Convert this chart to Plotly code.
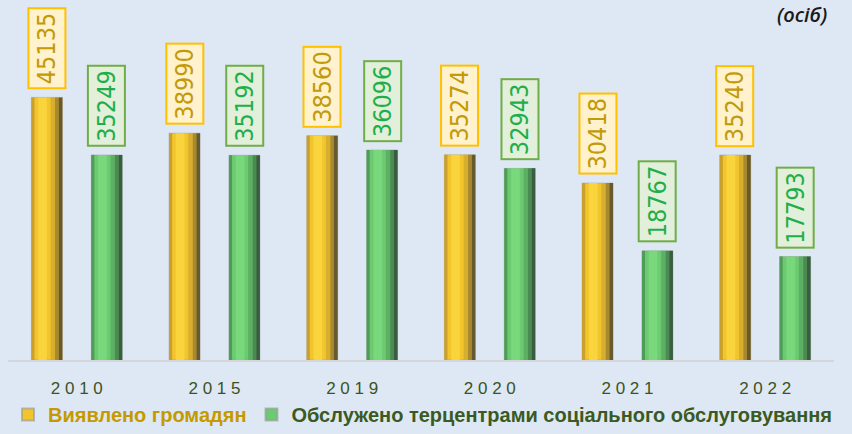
import plotly.graph_objects as go

years = ["2010", "2015", "2019", "2020", "2021", "2022"]
tick_labels = ["2 0 1 0", "2 0 1 5", "2 0 1 9", "2 0 2 0", "2 0 2 1", "2 0 2 2"]
found = [45135, 38990, 38560, 35274, 30418, 35240]
served = [35249, 35192, 36096, 32943, 18767, 17793]

name_found = "Виявлено громадян"
name_served = "Обслужено терцентрами соціального обслуговування"

LBL_FONT = "DejaVu Sans Condensed, Liberation Sans Narrow, sans-serif"

BAR_W = 0.225          # bar width in category units
OFF_FOUND = -0.330     # left edge of the yellow bar relative to category centre
OFF_SERVED = 0.105     # left edge of the green bar

# shading strips: (start fraction, end fraction, colour)
shade_found = [(0.00, 0.10, "#C9A02E"), (0.22, 0.50, "#FAD43C"), (0.62, 0.76, "#D8AE2E"),
               (0.76, 0.88, "#A8892E"), (0.88, 1.00, "#66582F")]
shade_served = [(0.00, 0.10, "#4F9C5A"), (0.22, 0.50, "#79D87C"), (0.62, 0.76, "#5DB063"),
                (0.76, 0.88, "#4A8B52"), (0.88, 1.00, "#3A5C41")]

fig = go.Figure()


def add_series(vals, name, base_col, offset, shades, legend_col):
    fig.add_trace(go.Bar(
        x=years, y=vals, name="<span style='color:%s'>%s</span>" % (legend_col, name),
        width=BAR_W, offset=offset,
        marker=dict(color=base_col, line=dict(color="rgba(150,150,150,0.6)", width=0.8)),
    ))
    for a, b, c in shades:
        fig.add_trace(go.Bar(
            x=years, y=vals, showlegend=False, hoverinfo="skip",
            width=BAR_W * (b - a), offset=offset + BAR_W * a,
            marker=dict(color=c, line=dict(width=0)),
        ))


add_series(found, name_found, "#F3C52C", OFF_FOUND, shade_found, "#C49A00")
add_series(served, name_served, "#6CCB70", OFF_SERVED, shade_served, "#3A5A22")

ann = []
for i, v in enumerate(found):
    ann.append(dict(x=i, y=v, xref="x", yref="y", xshift=-30, yshift=8,
                    yanchor="bottom", xanchor="center", text=str(v), textangle=-90,
                    showarrow=False, font=dict(family=LBL_FONT, size=25, color="#C29A0A"),
                    bgcolor="#FFF2CC", bordercolor="#FFC000", borderwidth=2, borderpad=3))
for i, v in enumerate(served):
    ann.append(dict(x=i, y=v, xref="x", yref="y", xshift=30, yshift=8,
                    yanchor="bottom", xanchor="center", text=str(v), textangle=-90,
                    showarrow=False, font=dict(family=LBL_FONT, size=25, color="#1FAF4A"),
                    bgcolor="#E2EFDA", bordercolor="#70AD47", borderwidth=2, borderpad=3))
ann.append(dict(x=1.0, y=1.0, xref="paper", yref="paper", xanchor="right", yanchor="top",
                xshift=-5, yshift=1, text="<i>(осіб)</i>", showarrow=False,
                font=dict(family="Open Sans, Liberation Sans, sans-serif", size=20, color="#1A1A1A",
                          weight=600)))

fig.update_layout(
    width=852, height=434,
    margin=dict(l=8, r=18, t=0, b=73),
    paper_bgcolor="#DEE8F4", plot_bgcolor="#DEE8F4",
    barmode="overlay",
    showlegend=True,
    legend=dict(orientation="h", x=0.0, xanchor="left", y=-0.15, yanchor="middle",
                font=dict(family="Liberation Sans, Arial, sans-serif", size=20, color="#3A5A22",
                          weight="bold"),
                itemsizing="constant", bgcolor="rgba(0,0,0,0)", traceorder="normal",
                itemwidth=30, tracegroupgap=0),
    xaxis=dict(type="category", range=[-0.5, 5.5], tickmode="array", tickvals=years, ticktext=tick_labels,
               showline=True, linecolor="#D3D6DA", linewidth=2, ticks="", ticklabelstandoff=12,
               tickfont=dict(family="Liberation Sans, Arial, sans-serif", size=17, color="#3B5323"),
               showgrid=False, fixedrange=True),
    yaxis=dict(range=[0, 61880], visible=False, showgrid=False, fixedrange=True),
    annotations=ann,
)

fig.write_html("out.html")
